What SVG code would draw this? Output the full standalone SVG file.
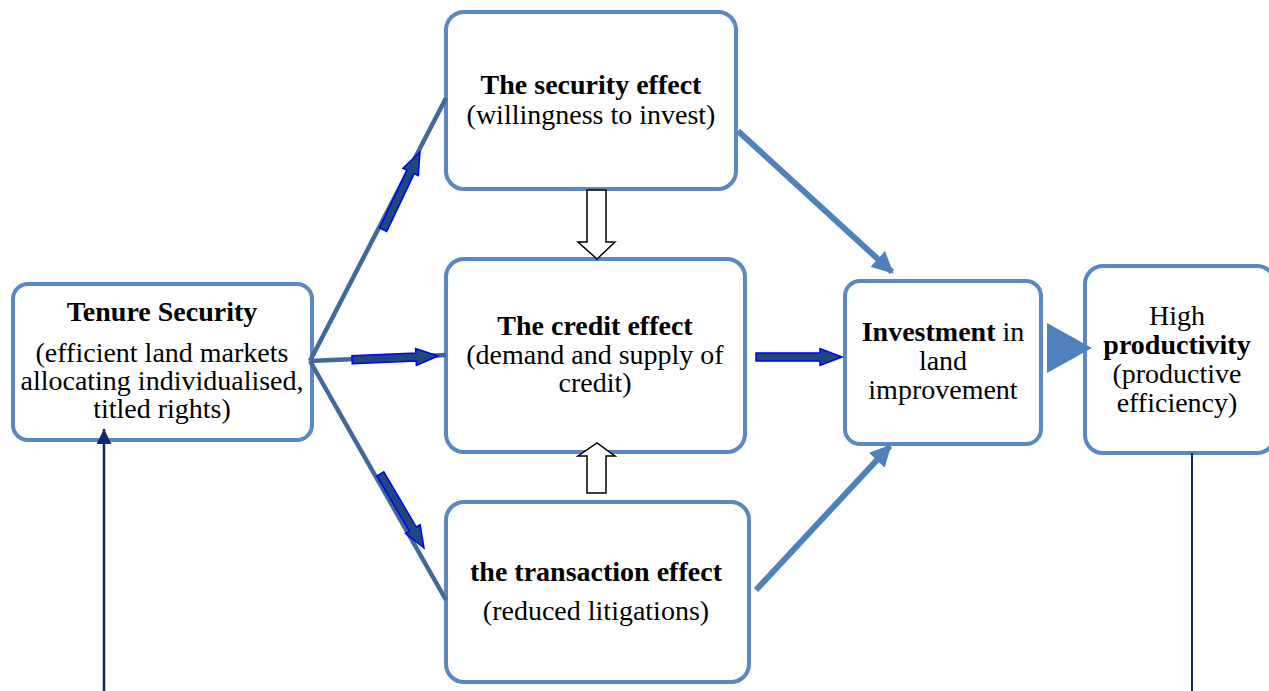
<svg xmlns="http://www.w3.org/2000/svg" width="1269" height="691" viewBox="0 0 1269 691">
<style>
  .box { fill: #ffffff; stroke: #5a88c2; stroke-width: 4; }
  .t { font-family: "Liberation Serif", "Times New Roman", serif; font-size: 28px; fill: #000; text-anchor: middle; }
  .b { font-weight: bold; }
  .link { stroke: #41699b; stroke-width: 4.5; fill: none; stroke-linecap: butt; }
  .flow { stroke: #4f81bd; stroke-width: 6; fill: none; }
  .blk { fill: #1f497d; stroke: #0000ff; stroke-width: 1.5; }
  .hollow { fill: #ffffff; stroke: #000; stroke-width: 1.5; }
</style>
<defs>
  <marker id="flowHead" viewBox="0 0 10 10" refX="9" refY="5" markerWidth="3.6" markerHeight="3.6" orient="auto" markerUnits="strokeWidth">
    <path d="M0,0 L10,5 L0,10 Z" fill="#4f81bd"/>
  </marker>
  <marker id="navyHead" viewBox="0 0 10 10" refX="10" refY="5" markerWidth="6" markerHeight="6" orient="auto" markerUnits="strokeWidth">
    <path d="M0,0 L10,5 L0,10 Z" fill="#0b2a6b"/>
  </marker>
  <!-- block arrow along +x with its tip at the origin -->
  <path id="blockArrow" class="blk" d="M0,0 L-22,-8.5 L-22,-4 L-86,-4 L-86,4 L-22,4 L-22,8.5 Z"/>
</defs>

<g id="tenure">
  <rect class="box" x="13" y="284" width="299" height="156" rx="15"/>
  <text class="t b" x="162" y="321">Tenure Security</text>
  <text class="t" x="162" y="362">(efficient land markets</text>
  <text class="t" x="162" y="390">allocating individualised,</text>
  <text class="t" x="162" y="418">titled rights)</text>
</g>

<g id="security">
  <rect class="box" x="446" y="12" width="290" height="177" rx="18"/>
  <text class="t b" x="591" y="94">The security effect</text>
  <text class="t" x="591" y="124">(willingness to invest)</text>
</g>

<g id="credit">
  <rect class="box" x="446" y="259" width="299" height="193" rx="18"/>
  <text class="t b" x="595" y="335">The credit effect</text>
  <text class="t" x="595" y="364">(demand and supply of</text>
  <text class="t" x="595" y="392">credit)</text>
</g>

<g id="transaction">
  <rect class="box" x="446" y="502" width="303" height="180" rx="18"/>
  <text class="t b" x="596" y="581">the transaction effect</text>
  <text class="t" x="596" y="620">(reduced litigations)</text>
</g>

<g id="investment">
  <rect class="box" x="845" y="281" width="196" height="163" rx="15"/>
  <text class="t" x="943" y="341"><tspan class="b">Investment</tspan> in</text>
  <text class="t" x="943" y="370">land</text>
  <text class="t" x="943" y="399">improvement</text>
</g>

<g id="productivity">
  <rect class="box" x="1085" y="266" width="190" height="187" rx="18"/>
  <text class="t" x="1177" y="325">High</text>
  <text class="t b" x="1177" y="354">productivity</text>
  <text class="t" x="1177" y="383">(productive</text>
  <text class="t" x="1177" y="412">efficiency)</text>
</g>

<g id="connectors">
  <!-- fan-out lines from Tenure Security -->
  <line class="link" x1="310" y1="361" x2="446" y2="98"/>
  <line class="link" x1="310" y1="361" x2="446" y2="355"/>
  <line class="link" x1="310" y1="361" x2="446" y2="600"/>

  <!-- block arrows lying on the fan-out lines and into investment -->
  <use href="#blockArrow" transform="translate(420,152) rotate(-64.6)"/>
  <use href="#blockArrow" transform="translate(438,356) rotate(-2.5)"/>
  <use href="#blockArrow" transform="translate(424,548) rotate(59.5)"/>
  <use href="#blockArrow" transform="translate(842,357)"/>

  <!-- security / transaction effects into investment -->
  <line class="flow" x1="738" y1="131" x2="892" y2="272" marker-end="url(#flowHead)"/>
  <line class="flow" x1="756" y1="590" x2="890" y2="446" marker-end="url(#flowHead)"/>

  <!-- hollow arrows into the credit effect -->
  <path class="hollow" d="M587,190 L606,190 L606,242 L615,242 L597,259 L578,242 L587,242 Z"/>
  <path class="hollow" d="M587,493 L606,493 L606,456 L615,456 L597,443 L578,456 L587,456 Z"/>

  <!-- investment to productivity -->
  <path d="M1047,323 L1092,348 L1047,373 Z" fill="#4f81bd"/>

  <!-- feedback lines -->
  <line x1="104" y1="691" x2="104" y2="429" stroke="#0b2a6b" stroke-width="2.5" marker-end="url(#navyHead)"/>
  <line x1="1192" y1="453" x2="1192" y2="691" stroke="#0b2a6b" stroke-width="2"/>
</g>
</svg>
